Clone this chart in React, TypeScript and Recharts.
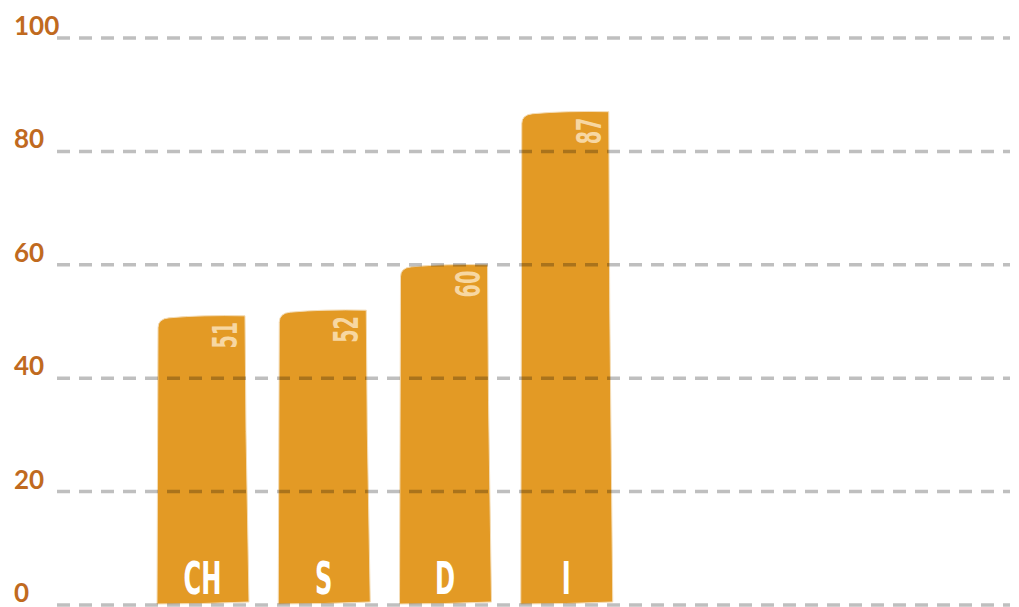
import React from "react";
import { BarChart, Bar, XAxis, YAxis, ReferenceLine, LabelList } from "recharts";

const categories = ["CH", "S", "D", "I"];
const values = [51, 52, 60, 87];
const yTicks = [0, 20, 40, 60, 80, 100];

const data = categories.map((name, i) => ({ name, value: values[i] }));

const ORANGE = "#E39A25";
const AXIS_TEXT = "#C06A1F";
const PALE = "#F7D7A2";

// slightly wobbly, hand-drawn looking bar
const SketchBar = (props: any) => {
 const { x, y, width: w, height: h } = props;
 if (h <= 0) return null;
 const d = [
 `M ${x} ${y + h - 1}`,
 `L ${x + 1} ${y + 12}`,
 `Q ${x + 1} ${y + 3} ${x + 12} ${y + 2}`,
 `Q ${x + w * 0.5} ${y - 1} ${x + w - 3} ${y}`,
 `L ${x + w - 2} ${y + h * 0.4}`,
 `L ${x + w + 1} ${y + h - 3}`,
 `Q ${x + w * 0.5} ${y + h - 1} ${x} ${y + h - 1}`,
 "Z",
 ].join(" ");
 return <path d={d} fill={ORANGE} stroke="#F4DDB8" strokeWidth={1} />;
};

const CategoryLabel = (props: any) => {
 const { x, y, width, height, value } = props;
 const cx = x + width / 2;
 const by = y + height - 11;
 return (
 <text
 transform={`translate(${cx},${by}) scale(0.55,1)`}
 textAnchor="middle"
 fill="#FFFFFF"
 fontFamily="DejaVu Sans"
 fontWeight={700}
 fontSize={44}
 >
 {value}
 </text>
 );
};

const ValueLabel = (props: any) => {
 const { x, y, width, value } = props;
 const ox = x + width - 11;
 const oy = y + 6;
 return (
 <text
 transform={`translate(${ox},${oy}) rotate(-90) scale(0.58,1)`}
 textAnchor="end"
 fill={PALE}
 fontFamily="DejaVu Sans"
 fontWeight={700}
 fontSize={33}
 >
 {value}
 </text>
 );
};

const YTick = (props: any) => {
 const { y, payload } = props;
 return (
 <text
 x={14}
 y={y - 3}
 textAnchor="start"
 fill={AXIS_TEXT}
 fontFamily="Lato"
 fontWeight={700}
 fontSize={26}
 >
 {payload.value}
 </text>
 );
};

export default function App() {
 return (
 <div style={{ position: "absolute", left: 0, top: 0, width: 1019, height: 607, background: "#fff" }}>
 <BarChart
 width={1019}
 height={607}
 data={data}
 margin={{ top: 38, right: 9, bottom: 2, left: 0 }}
 barSize={91}
 >
 <XAxis dataKey="name" hide padding={{ left: 85, right: 383 }} />
 <YAxis
 domain={[0, 100]}
 ticks={yTicks}
 interval={0}
 width={57}
 axisLine={false}
 tickLine={false}
 tick={<YTick />}
 />
 <Bar dataKey="value" shape={<SketchBar />} isAnimationActive={false}>
 <LabelList dataKey="name" content={<CategoryLabel />} />
 <LabelList dataKey="value" content={<ValueLabel />} />
 </Bar>
 {yTicks.map((t) => (
 <ReferenceLine
 key={t}
 y={t}
 stroke="rgba(0,0,0,0.25)"
 strokeWidth={3.5}
 strokeDasharray="13 9"
 />
 ))}
 </BarChart>
 </div>
 );
}
